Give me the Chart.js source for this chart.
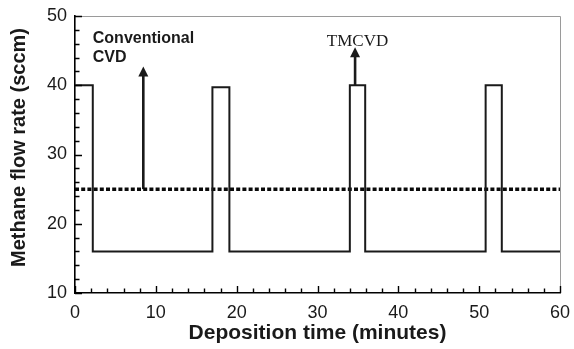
<!DOCTYPE html>
<html>
<head>
<meta charset="utf-8">
<script src="https://cdn.jsdelivr.net/npm/chart.js@4/dist/chart.umd.min.js"></script>
<style>
  html, body { margin: 0; padding: 0; background: #ffffff; }
  canvas { display: block; }
</style>
</head>
<body>
<canvas id="c" width="574" height="349"></canvas>
<script>
// ---- data ----
const changeTimes = [0, 2.2, 17, 19.1, 34, 35.9, 50.8, 52.8, 60];   // minutes (TMCVD switching times)
const flowRates   = [40, 16, 39.7, 16, 40, 16, 40, 16, 16];          // sccm (level held after each time)
const convTimes   = [0, 60];                                          // conventional CVD
const convRates   = [25, 25];
const arrowTimes  = [8.45, 34.65];
const arrowStarts = [25, 40];
const arrowTips   = [42.7, 45.5];
const xTicks = [0, 10, 20, 30, 40, 50, 60];
const yTicks = [10, 20, 30, 40, 50];
const xTitle = 'Deposition time (minutes)';
const yTitle = 'Methane flow rate (sccm)';
const labelConv = ['Conventional', 'CVD'];
const labelTm = 'TMCVD';

const INK = '#1a1a1a';

const stepData = changeTimes.map((t, i) => ({ x: t, y: flowRates[i] }));
const convData = convTimes.map((t, i) => ({ x: t, y: convRates[i] }));
const arrowSets = arrowTimes.map((t, i) => ({
  data: [{ x: t, y: arrowStarts[i] }, { x: t, y: arrowTips[i] - 1 }],
  borderColor: INK, borderWidth: 2.6, pointRadius: 0, fill: false
}));

function noPad(s) { s.paddingLeft = 0; s.paddingRight = 0; s.paddingTop = 0; s.paddingBottom = 0; }

const decor = {
  id: 'decor',
  beforeDatasetsDraw(chart) {
    const { ctx, chartArea: a } = chart;
    ctx.save();
    // light top/right frame
    ctx.strokeStyle = '#9a9a9a';
    ctx.lineWidth = 1;
    ctx.beginPath();
    ctx.moveTo(a.left, a.top + 0.5);
    ctx.lineTo(a.right + 0.5, a.top + 0.5);
    ctx.lineTo(a.right + 0.5, a.bottom);
    ctx.stroke();
    ctx.restore();
  },
  afterDraw(chart) {
    const { ctx, chartArea: a, scales: { x, y } } = chart;
    ctx.save();
    // inward ticks
    ctx.strokeStyle = '#000000';
    ctx.lineWidth = 1.4;
    ctx.beginPath();
    for (let v = 0; v <= 60; v += 2) {
      const px = Math.round(x.getPixelForValue(v)) + 0.5;
      const len = (v % 10 === 0) ? 7 : 4.5;
      ctx.moveTo(px, a.bottom);
      ctx.lineTo(px, a.bottom - len);
    }
    for (let v = 10; v <= 50; v += 2) {
      const py = Math.round(y.getPixelForValue(v)) + 0.5;
      const len = (v % 10 === 0) ? 7 : 4.5;
      ctx.moveTo(a.left, py);
      ctx.lineTo(a.left + len, py);
    }
    ctx.stroke();

    // arrow heads
    ctx.fillStyle = INK;
    arrowTimes.forEach((t, i) => {
      const px = x.getPixelForValue(t);
      const py = y.getPixelForValue(arrowTips[i]);
      ctx.beginPath();
      ctx.moveTo(px, py);
      ctx.lineTo(px - 5, py + 10);
      ctx.lineTo(px + 5, py + 10);
      ctx.closePath();
      ctx.fill();
    });
    // annotation text
    ctx.fillStyle = INK;
    ctx.textBaseline = 'alphabetic';
    ctx.textAlign = 'left';
    ctx.font = 'bold 16px "Liberation Sans", Arial, sans-serif';
    ctx.fillText(labelConv[0], x.getPixelForValue(2.2), y.getPixelForValue(46.1));
    ctx.fillText(labelConv[1], x.getPixelForValue(2.2), y.getPixelForValue(43.4));
    ctx.textAlign = 'center';
    ctx.font = '17px "Liberation Serif", "Times New Roman", serif';
    ctx.fillText(labelTm, x.getPixelForValue(34.95), y.getPixelForValue(45.7));

    // y axis title
    ctx.translate(25, (a.top + a.bottom) / 2 - 7);
    ctx.rotate(-Math.PI / 2);
    ctx.textAlign = 'center';
    ctx.textBaseline = 'alphabetic';
    ctx.font = 'bold 20px "Liberation Sans", Arial, sans-serif';
    ctx.fillText(yTitle, 0, 0);
    ctx.restore();
  }
};

new Chart(document.getElementById('c'), {
  type: 'line',
  data: {
    datasets: [
      { data: stepData, stepped: true, borderColor: INK, borderWidth: 2, pointRadius: 0, fill: false },
      { data: convData, borderColor: '#0a0a0a', borderWidth: 3.5, borderDash: [4, 2.2], pointRadius: 0, fill: false },
      ...arrowSets
    ]
  },
  options: {
    responsive: false,
    animation: false,
    devicePixelRatio: 1,
    layout: { padding: { top: 16, right: 14, left: 0, bottom: 0 } },
    plugins: { legend: { display: false }, tooltip: { enabled: false } },
    scales: {
      x: {
        type: 'linear', min: 0, max: 60,
        afterBuildTicks(s) { s.ticks = xTicks.map(v => ({ value: v })); },
        afterFit(s) { s.height = 56; noPad(s); },
        grid: { display: false, drawTicks: false },
        border: { display: true, color: '#000000', width: 1.6 },
        ticks: { padding: 9, color: INK, font: { family: '"Liberation Sans", Arial, sans-serif', size: 18 }, maxRotation: 0 },
        title: { display: true, text: xTitle, color: INK, padding: { top: 0, bottom: 3 },
                 font: { family: '"Liberation Sans", Arial, sans-serif', size: 21, weight: 'bold' } }
      },
      y: {
        type: 'linear', min: 10, max: 50,
        afterBuildTicks(s) { s.ticks = yTicks.map(v => ({ value: v })); },
        afterFit(s) { s.width = 75; noPad(s); },
        grid: { display: false, drawTicks: false },
        border: { display: true, color: '#000000', width: 1.6 },
        ticks: { padding: 8, color: INK, font: { family: '"Liberation Sans", Arial, sans-serif', size: 18 } },
        title: { display: false, text: yTitle }
      }
    }
  },
  plugins: [decor]
});
</script>
</body>
</html>
